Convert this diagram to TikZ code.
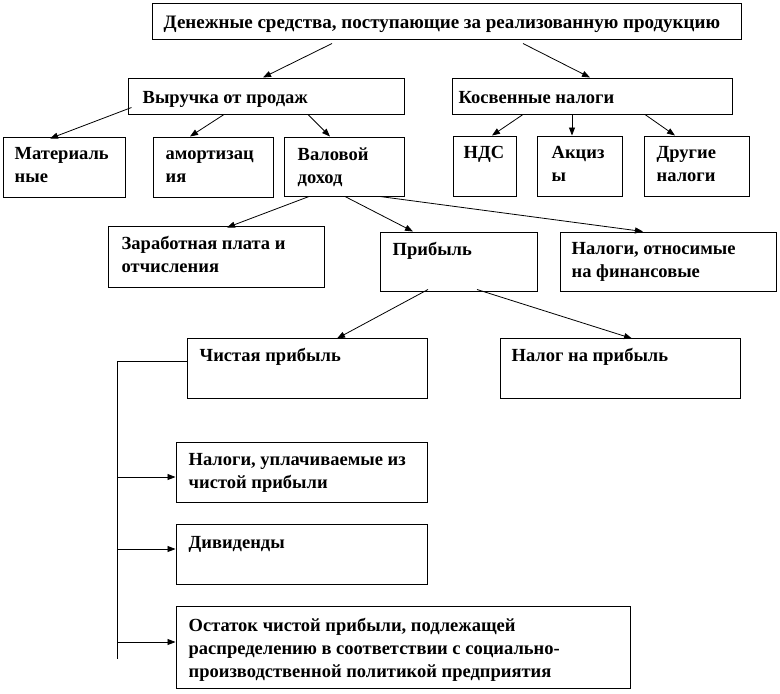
\documentclass[tikz,border=0pt]{standalone}
\usepackage{fontspec}
\setmainfont{Liberation Serif}
\usetikzlibrary{arrows.meta}

\tikzset{
  box/.style={draw, line width=1pt, inner sep=0pt},
  txt/.style={anchor=north west, align=left, inner sep=0pt, xshift=13pt, yshift=-11pt,
    font=\fontsize{18.5}{23}\selectfont\bfseries},
  arr/.style={-{Triangle[length=8pt,width=6pt]}, line width=0.8pt}
}

\begin{document}
\begin{tikzpicture}[x=1pt, y=-1pt]
    \useasboundingbox (0,0) rectangle (780,694);
    \node[box, minimum width=589, minimum height=36, label={[txt, xshift=-1pt, yshift=-2pt, font=\fontsize{19}{23}\selectfont\bfseries]north west:Денежные средства, поступающие за реализованную продукцию}] (src) at (446.5,21) {};
    \node[box, minimum width=276, minimum height=36, label={[txt, xshift=2pt, yshift=-3pt]north west:Выручка от продаж}] (rev) at (266,96) {};
    \node[box, minimum width=280, minimum height=36, label={[txt, xshift=-6pt, yshift=-3pt]north west:Косвенные налоги}] (ind) at (592,96) {};
    \node[box, minimum width=122, minimum height=60, label={[txt, xshift=-1pt]north west:Материаль\\ные}] (mat) at (64,167) {};
    \node[box, minimum width=120, minimum height=60, label={[txt]north west:\vphantom{М}амортизац\\ия}] (amort) at (213,167) {};
    \node[box, minimum width=120, minimum height=59, label={[txt, xshift=1pt]north west:Валовой\\доход}] (gross) at (344,166.5) {};
    \node[box, minimum width=63, minimum height=60, label={[txt, xshift=-2pt]north west:НДС}] (vat) at (484.5,166) {};
    \node[box, minimum width=85, minimum height=60, label={[txt, xshift=2pt]north west:Акциз\\ы}] (excise) at (579.5,166) {};
    \node[box, minimum width=105, minimum height=60, label={[txt]north west:Другие\\налоги}] (other) at (696.5,166) {};
    \node[box, minimum width=216, minimum height=61, label={[txt, xshift=1pt]north west:Заработная плата и\\отчисления}] (wage) at (216,256.5) {};
    \node[box, minimum width=157, minimum height=59, label={[txt]north west:Прибыль}] (profit) at (458.5,261.5) {};
    \node[box, minimum width=216, minimum height=59, label={[txt, xshift=-1pt]north west:Налоги, относимые\\на финансовые}] (fin) at (668,261.5) {};
    \node[box, minimum width=240, minimum height=60, label={[txt]north west:Чистая прибыль}] (net) at (307,368) {};
    \node[box, minimum width=240, minimum height=60, label={[txt, xshift=-1pt]north west:Налог на прибыль}] (ptax) at (620,368) {};
    \node[box, minimum width=251, minimum height=60, label={[txt, yshift=-1pt]north west:Налоги, уплачиваемые из\\чистой прибыли}] (ntax) at (301.5,472) {};
    \node[box, minimum width=251, minimum height=60, label={[txt, yshift=-2pt]north west:Дивиденды}] (div) at (301.5,554) {};
    \node[box, minimum width=454, minimum height=82, label={[txt, yshift=-2pt]north west:Остаток чистой прибыли, подлежащей\\распределению в соответствии с социально-\\производственной политикой предприятия}] (rest) at (403,647) {};

    \draw[arr] ([xshift=-114.5pt, yshift=-4pt]src.south) to ([xshift=-3pt]rev.north);
    \draw[arr] ([xshift=76.5pt, yshift=-4pt]src.south) to ([xshift=-2pt]ind.north);
    \draw[arr] ([xshift=4pt, yshift=7pt]rev.south west) to ([xshift=-14pt, yshift=-2pt]mat.north);
    \draw[arr] ([xshift=-42pt]rev.south) to ([xshift=-23pt]amort.north);
    \draw[arr] ([xshift=42pt]rev.south) to ([xshift=-14pt]gross.north);
    \draw[arr] ([xshift=-69pt]ind.south) to ([xshift=7.5pt]vat.north);
    \draw[arr] ([xshift=-20pt]ind.south) to ([xshift=-7.5pt]excise.north);
    \draw[arr] ([xshift=53pt]ind.south) to ([xshift=-21.5pt]other.north);
    \draw[arr] ([xshift=-35pt]gross.south) to ([xshift=11pt, yshift=-2pt]wage.north);
    \draw[arr] ([xshift=1pt]gross.south) to ([xshift=-45.5pt]profit.north);
    \draw[arr] ([xshift=36pt]gross.south) to ([xshift=-25pt]fin.north);
    \draw[arr] ([xshift=-30.5pt, yshift=2pt]profit.south) to ([xshift=30pt, yshift=-1pt]net.north);
    \draw[arr] ([xshift=18.5pt, yshift=2pt]profit.south) to ([xshift=12pt, yshift=-1pt]ptax.north);

    \coordinate (t0) at (117,361);
    \coordinate (t1) at (117,477);
    \coordinate (t2) at (117,549);
    \coordinate (t3) at (117,642);
    \coordinate (tend) at (117,659);
    \draw[line width=0.8pt] (t0 -| net.west) -- (t0) -- (tend);
    \draw[arr] (t1) -- (t1 -| ntax.west);
    \draw[arr] (t2) -- (t2 -| div.west);
    \draw[arr] (t3) -- (t3 -| rest.west);
\end{tikzpicture}
\end{document}
